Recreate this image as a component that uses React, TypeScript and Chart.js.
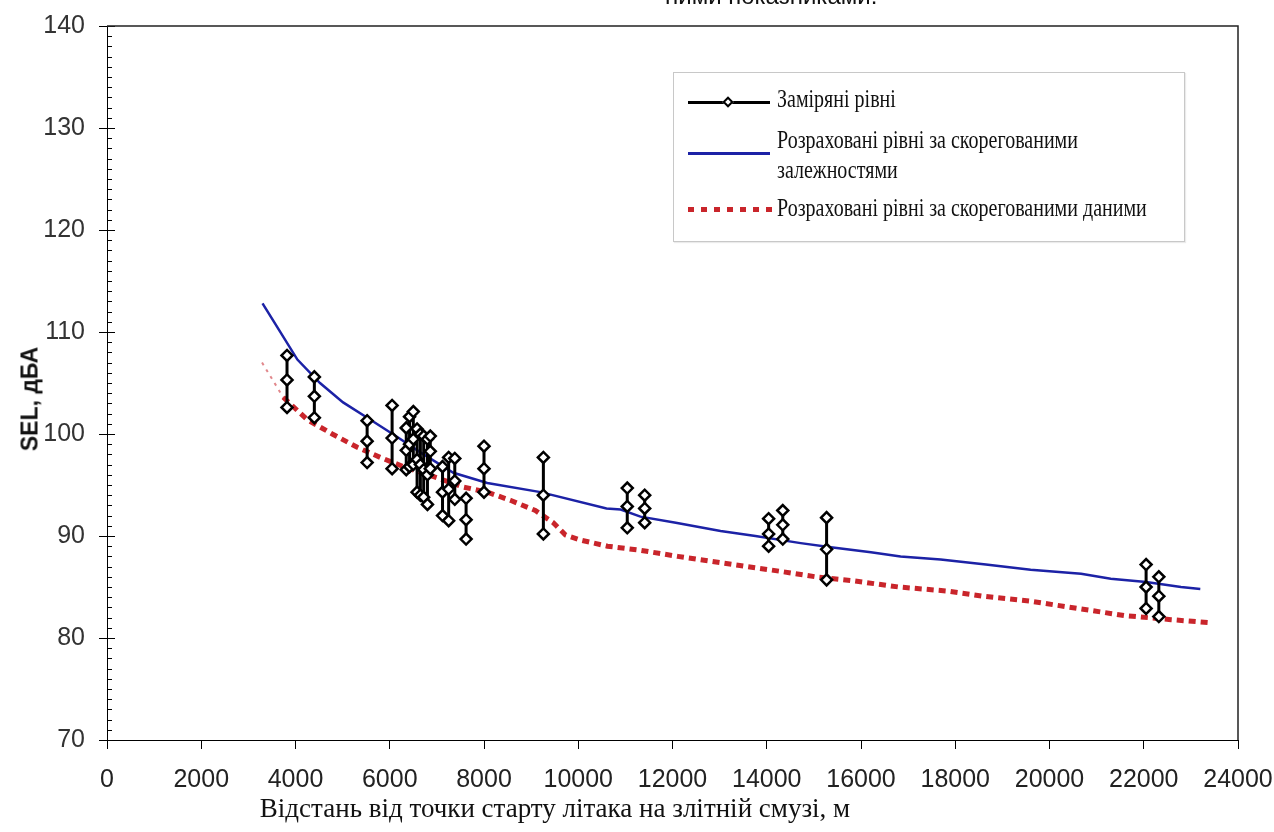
import React, { useEffect, useRef } from "react";
import { Chart, registerables } from "chart.js";

Chart.register(...registerables);

// ---- axis ticks ----
const xTickValues = [0, 2000, 4000, 6000, 8000, 10000, 12000, 14000, 16000, 18000, 20000, 22000, 24000];
const yTickValues = [70, 80, 90, 100, 110, 120, 130, 140];

// ---- calculated levels, corrected dependencies (blue) ----
const blueX = [3300, 3610, 4040, 4520, 5010, 5590, 6160, 6650, 7350, 8070, 9200, 10600, 10900, 11320, 12070, 13020, 13760, 14720, 15360, 16210, 16840, 17690, 18650, 19600, 20670, 21300, 22050, 22790, 23200];
const blueY = [112.8, 110.5, 107.3, 105.0, 103.1, 101.4, 99.7, 98.2, 96.2, 95.2, 94.3, 92.7, 92.6, 91.9, 91.3, 90.5, 90.0, 89.3, 88.9, 88.4, 88.0, 87.7, 87.2, 86.7, 86.3, 85.8, 85.5, 85.0, 84.8];

// ---- calculated levels, corrected data (red dotted) ----
const redX = [3290, 3740, 4250, 4780, 5310, 5800, 6290, 7070, 7560, 8070, 8560, 9090, 9470, 9730, 10050, 10620, 11320, 12110, 12850, 13590, 14340, 15040, 15850, 16800, 17840, 18590, 19600, 20600, 21580, 22580, 23400];
const redY = [107.0, 103.6, 101.4, 100.0, 98.7, 97.7, 96.8, 95.6, 94.8, 94.3, 93.5, 92.5, 91.3, 90.1, 89.6, 89.0, 88.6, 88.0, 87.5, 87.0, 86.5, 86.0, 85.6, 85.0, 84.6, 84.1, 83.6, 82.9, 82.2, 81.8, 81.5];

// ---- measured levels (max / mid / min per position) ----
const measX = [3820, 4400, 5520, 6050, 6350, 6420, 6500, 6580, 6650, 6720, 6800, 6860, 7120, 7250, 7380, 7620, 8000, 9260, 11040, 11410, 14040, 14340, 15270, 22050, 22320];
const measMax = [107.7, 105.6, 101.3, 102.8, 100.6, 101.7, 102.2, 100.5, 100.0, 99.8, 99.5, 99.8, 96.8, 97.7, 97.6, 93.7, 98.8, 97.7, 94.7, 94.0, 91.7, 92.5, 91.8, 87.2, 86.0];
const measMid = [105.3, 103.7, 99.3, 99.6, 98.4, 99.0, 99.5, 97.5, 97.0, 96.5, 96.0, 98.3, 94.3, 94.6, 95.4, 91.6, 96.6, 94.0, 92.9, 92.7, 90.2, 91.1, 88.7, 85.0, 84.1];
const measMin = [102.6, 101.6, 97.2, 96.6, 96.5, 96.8, 97.0, 94.3, 94.0, 93.8, 93.1, 96.6, 92.0, 91.5, 93.6, 89.7, 94.3, 90.2, 90.8, 91.3, 89.0, 89.7, 85.7, 82.9, 82.1];

const labelMeasured = "Заміряні рівні";
const labelBlue1 = "Розраховані рівні за скорегованими";
const labelBlue2 = "залежностями";
const labelRed = "Розраховані рівні за скорегованими даними";
const xTitle = "Відстань від точки старту літака на злітній смузі, м";
const yTitle = "SEL, дБА";
const topFragment = "ними показниками.";

const BLUE = "#1c22a6";
const RED = "#c9252b";

const framePlugin = {
  id: "frameAndMinor",
  afterDraw(chart: any) {
    const { ctx, chartArea: a, scales } = chart;
    const y = scales.y;
    ctx.save();
    ctx.strokeStyle = "#000";
    ctx.lineWidth = 1;
    for (let v = yTickValues[0]; v <= yTickValues[yTickValues.length - 1]; v += 1) {
      const py = Math.round(y.getPixelForValue(v)) + 0.5;
      const len = v % 10 === 0 ? 8 : 5;
      ctx.beginPath();
      ctx.moveTo(a.left, py);
      ctx.lineTo(a.left + len, py);
      ctx.stroke();
    }
    ctx.strokeStyle = "#222";
    ctx.lineWidth = 1.5;
    ctx.beginPath();
    ctx.moveTo(a.left, a.top);
    ctx.lineTo(a.right, a.top);
    ctx.lineTo(a.right, a.bottom);
    ctx.stroke();
    ctx.restore();
  },
};

function buildMeasured() {
  const pts: any[] = [];
  measX.forEach((x, i) => {
    pts.push({ x, y: measMax[i] });
    pts.push({ x, y: measMid[i] });
    pts.push({ x, y: measMin[i] });
    pts.push({ x, y: null });
  });
  return pts;
}

export default function App() {
  const ref = useRef<HTMLCanvasElement | null>(null);

  useEffect(() => {
    if (!ref.current) return;
    const chart = new Chart(ref.current, {
      type: "line",
      data: {
        datasets: [
          {
            label: labelMeasured,
            data: buildMeasured(),
            borderColor: "#000",
            borderWidth: 3,
            pointStyle: "rectRot",
            pointRadius: 5.5,
            pointBorderWidth: 2.5,
            pointBackgroundColor: "#fff",
            pointBorderColor: "#000",
            spanGaps: false,
            tension: 0,
            order: 0,
          } as any,
          {
            label: labelBlue1 + " " + labelBlue2,
            data: blueX.map((x, i) => ({ x, y: blueY[i] })),
            borderColor: BLUE,
            borderWidth: 2.5,
            pointRadius: 0,
            tension: 0,
            order: 1,
          },
          {
            label: labelRed,
            data: redX.map((x, i) => ({ x, y: redY[i] })),
            borderColor: RED,
            borderWidth: 5,
            borderDash: [7, 5],
            borderCapStyle: "butt",
            pointRadius: 0,
            tension: 0,
            order: 2,
            segment: {
              borderWidth: (c: any) => (c.p0DataIndex === 0 ? 2 : 5),
              borderColor: (c: any) => (c.p0DataIndex === 0 ? "rgba(201,37,43,0.55)" : RED),
              borderDash: (c: any) => (c.p0DataIndex === 0 ? [3, 5] : [7, 5]),
            },
          } as any,
        ],
      },
      options: {
        animation: false,
        responsive: false,
        maintainAspectRatio: false,
        layout: { padding: { top: 26, right: 36, left: 0, bottom: 0 } },
        plugins: { legend: { display: false }, tooltip: { enabled: false } },
        scales: {
          x: {
            type: "linear",
            min: xTickValues[0],
            max: xTickValues[xTickValues.length - 1],
            afterBuildTicks: (s: any) => {
              s.ticks = xTickValues.map((v) => ({ value: v }));
            },
            ticks: {
              color: "#222",
              font: { family: "'Liberation Sans', Arial, sans-serif", size: 25 },
              padding: 16,
              maxRotation: 0,
              autoSkip: false,
              callback: (v: any) => String(v),
            },
            grid: { display: true, drawOnChartArea: false, drawTicks: true, tickLength: 9, color: "#000" },
            border: { display: true, color: "#000", width: 1 },
            afterFit: (s: any) => {
              s.height = 92;
              s.paddingRight = 0;
              s.paddingLeft = 0;
            },
          },
          y: {
            type: "linear",
            min: yTickValues[0],
            max: yTickValues[yTickValues.length - 1],
            afterBuildTicks: (s: any) => {
              s.ticks = yTickValues.map((v) => ({ value: v }));
            },
            ticks: {
              color: "#333",
              font: { family: "'Liberation Sans', Arial, sans-serif", size: 25 },
              padding: 14,
              autoSkip: false,
            },
            grid: { display: true, drawOnChartArea: false, drawTicks: true, tickLength: 8, color: "#000" },
            border: { display: true, color: "#000", width: 1 },
            afterFit: (s: any) => {
              s.width = 107;
              s.paddingTop = 0;
              s.paddingBottom = 0;
            },
          },
        },
      },
      plugins: [framePlugin],
    });
    return () => chart.destroy();
  }, []);

  const serif = "'Liberation Serif', 'Times New Roman', serif";
  const legendText: React.CSSProperties = {
    position: "absolute",
    left: 777,
    fontFamily: serif,
    fontSize: 20,
    lineHeight: "20px",
    color: "#111",
    whiteSpace: "nowrap",
    transform: "scaleY(1.22)",
    transformOrigin: "left center",
  };

  return (
    <div style={{ position: "fixed", left: 0, top: 0, width: 1274, height: 832, background: "#fff", overflow: "hidden" }}>
      <canvas ref={ref} width={1274} height={832} style={{ position: "absolute", left: 0, top: 0, width: 1274, height: 832 }} />
      <div
        style={{
          position: "absolute",
          left: 665,
          top: -16,
          fontFamily: "'Liberation Sans', Arial, sans-serif",
          fontSize: 24,
          lineHeight: "24px",
          color: "#111",
          whiteSpace: "nowrap",
        }}
      >
        {topFragment}
      </div>
      {/* y title */}
      <div
        style={{
          position: "absolute",
          left: 30,
          top: 399,
          transform: "translate(-50%, -50%) rotate(-90deg)",
          fontFamily: "'Liberation Sans', Arial, sans-serif",
          fontWeight: "bold",
          fontSize: 23,
          whiteSpace: "nowrap",
          color: "#111",
        }}
      >
        {yTitle}
      </div>
      {/* x title */}
      <div
        style={{
          position: "absolute",
          left: 555,
          top: 808,
          transform: "translate(-50%, -50%)",
          fontFamily: serif,
          fontSize: 27,
          whiteSpace: "nowrap",
          color: "#111",
        }}
      >
        {xTitle}
      </div>
      {/* legend */}
      <div
        style={{
          position: "absolute",
          left: 673,
          top: 72,
          width: 510,
          height: 168,
          border: "1px solid #c8c8c8",
          background: "#fff",
          boxShadow: "1px 1px 1px rgba(0,0,0,0.08)",
        }}
      />
      <div style={{ position: "absolute", left: 688, top: 101, width: 82, height: 2.5, background: "#000" }} />
      <div
        style={{
          position: "absolute",
          left: 724,
          top: 98,
          width: 8,
          height: 8,
          border: "2px solid #000",
          background: "#fff",
          transform: "rotate(45deg)",
          boxSizing: "border-box",
        }}
      />
      <div style={{ ...legendText, top: 88 }}>{labelMeasured}</div>
      <div style={{ position: "absolute", left: 688, top: 152, width: 82, height: 2.5, background: BLUE }} />
      <div style={{ ...legendText, top: 129 }}>{labelBlue1}</div>
      <div style={{ ...legendText, top: 159 }}>{labelBlue2}</div>
      <div
        style={{
          position: "absolute",
          left: 688,
          top: 207,
          width: 84,
          height: 5,
          backgroundImage: `repeating-linear-gradient(to right, ${RED} 0px, ${RED} 6px, transparent 6px, transparent 13px)`,
        }}
      />
      <div style={{ ...legendText, top: 197 }}>{labelRed}</div>
    </div>
  );
}
